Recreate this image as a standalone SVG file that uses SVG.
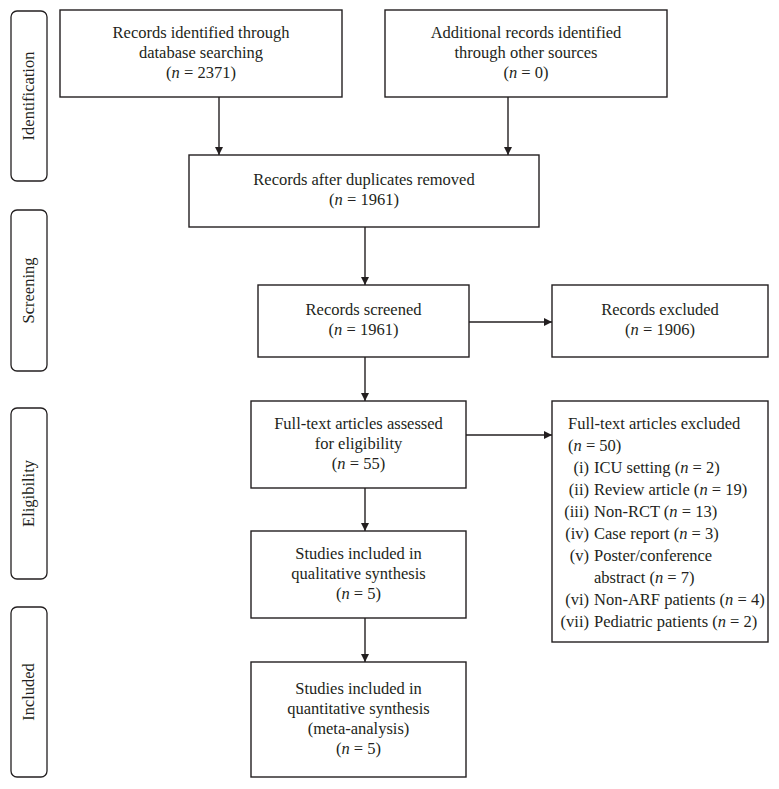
<svg xmlns="http://www.w3.org/2000/svg" width="779" height="789" viewBox="0 0 779 789">
<defs>
<marker id="arr" markerWidth="10" markerHeight="10" refX="9" refY="5" orient="auto" markerUnits="userSpaceOnUse">
<path d="M1,1 L9,5 L1,9 Z" fill="#231f20"/>
</marker>
<style>
.box{fill:#fff;stroke:#231f20;stroke-width:1.4}
.side{fill:#fff;stroke:#231f20;stroke-width:1.3}
.t{font-family:"Liberation Serif","Times New Roman",serif;font-size:16.5px;fill:#231f20}
.c{text-anchor:middle}
.r{text-anchor:end}
.con{stroke:#231f20;stroke-width:1.4;fill:none}
i{font-style:italic}
</style>
</defs>
<rect width="779" height="789" fill="#fff"/>

<g id="side-identification">
<rect class="side" x="11" y="11" width="36" height="170" rx="6"/>
<text class="t c" transform="translate(34,96) rotate(-90)">Identification</text>
</g>
<g id="side-screening">
<rect class="side" x="11" y="210" width="36" height="161" rx="6"/>
<text class="t c" transform="translate(34,290.5) rotate(-90)">Screening</text>
</g>
<g id="side-eligibility">
<rect class="side" x="11" y="408" width="36" height="171" rx="6"/>
<text class="t c" transform="translate(34,493.5) rotate(-90)">Eligibility</text>
</g>
<g id="side-included">
<rect class="side" x="11" y="607" width="36" height="170" rx="6"/>
<text class="t c" transform="translate(34,692) rotate(-90)">Included</text>
</g>

<g id="db-search">
<rect class="box" x="60" y="10" width="282" height="87"/>
<text class="t c" x="201" y="38">Records identified through</text>
<text class="t c" x="201" y="58">database searching</text>
<text class="t c" x="201" y="78">(<tspan font-style="italic">n</tspan> = 2371)</text>
</g>
<g id="other-sources">
<rect class="box" x="385" y="10" width="282" height="87"/>
<text class="t c" x="526" y="38">Additional records identified</text>
<text class="t c" x="526" y="58">through other sources</text>
<text class="t c" x="526" y="78">(<tspan font-style="italic">n</tspan> = 0)</text>
</g>
<g id="dup-removed">
<rect class="box" x="189" y="155" width="350" height="72"/>
<text class="t c" x="364" y="185">Records after duplicates removed</text>
<text class="t c" x="364" y="205">(<tspan font-style="italic">n</tspan> = 1961)</text>
</g>
<g id="screened">
<rect class="box" x="258" y="285" width="211" height="72"/>
<text class="t c" x="363.5" y="315">Records screened</text>
<text class="t c" x="363.5" y="335">(<tspan font-style="italic">n</tspan> = 1961)</text>
</g>
<g id="excluded">
<rect class="box" x="552" y="285" width="216" height="72"/>
<text class="t c" x="660" y="315">Records excluded</text>
<text class="t c" x="660" y="335">(<tspan font-style="italic">n</tspan> = 1906)</text>
</g>
<g id="fulltext">
<rect class="box" x="251" y="401" width="215" height="87"/>
<text class="t c" x="358.5" y="429">Full-text articles assessed</text>
<text class="t c" x="358.5" y="449">for eligibility</text>
<text class="t c" x="358.5" y="469">(<tspan font-style="italic">n</tspan> = 55)</text>
</g>
<g id="fulltext-excluded">
<rect class="box" x="552" y="401" width="216" height="241"/>
<text class="t" x="568" y="429">Full-text articles excluded</text>
<text class="t" x="568" y="451">(<tspan font-style="italic">n</tspan> = 50)</text>
<text class="t r" x="589" y="473">(i)</text>
<text class="t" x="594" y="473">ICU setting (<tspan font-style="italic">n</tspan> = 2)</text>
<text class="t r" x="589" y="495">(ii)</text>
<text class="t" x="594" y="495">Review article (<tspan font-style="italic">n</tspan> = 19)</text>
<text class="t r" x="589" y="517">(iii)</text>
<text class="t" x="594" y="517">Non-RCT (<tspan font-style="italic">n</tspan> = 13)</text>
<text class="t r" x="589" y="539">(iv)</text>
<text class="t" x="594" y="539">Case report (<tspan font-style="italic">n</tspan> = 3)</text>
<text class="t r" x="589" y="561">(v)</text>
<text class="t" x="594" y="561">Poster/conference</text>
<text class="t" x="594" y="583">abstract (<tspan font-style="italic">n</tspan> = 7)</text>
<text class="t r" x="589" y="605">(vi)</text>
<text class="t" x="594" y="605">Non-ARF patients (<tspan font-style="italic">n</tspan> = 4)</text>
<text class="t r" x="589" y="627">(vii)</text>
<text class="t" x="594" y="627">Pediatric patients (<tspan font-style="italic">n</tspan> = 2)</text>
</g>
<g id="qualitative">
<rect class="box" x="251" y="531" width="215" height="87"/>
<text class="t c" x="358.5" y="559">Studies included in</text>
<text class="t c" x="358.5" y="579">qualitative synthesis</text>
<text class="t c" x="358.5" y="599">(<tspan font-style="italic">n</tspan> = 5)</text>
</g>
<g id="quantitative">
<rect class="box" x="251" y="662" width="215" height="115"/>
<text class="t c" x="358.5" y="694">Studies included in</text>
<text class="t c" x="358.5" y="714">quantitative synthesis</text>
<text class="t c" x="358.5" y="734">(meta-analysis)</text>
<text class="t c" x="358.5" y="754">(<tspan font-style="italic">n</tspan> = 5)</text>
</g>

<g id="connectors">
<line class="con" x1="219" y1="97" x2="219" y2="155" marker-end="url(#arr)"/>
<line class="con" x1="508" y1="97" x2="508" y2="155" marker-end="url(#arr)"/>
<line class="con" x1="365" y1="227" x2="365" y2="285" marker-end="url(#arr)"/>
<line class="con" x1="469" y1="322" x2="552" y2="322" marker-end="url(#arr)"/>
<line class="con" x1="365" y1="357" x2="365" y2="401" marker-end="url(#arr)"/>
<line class="con" x1="466" y1="435" x2="552" y2="435" marker-end="url(#arr)"/>
<line class="con" x1="365" y1="488" x2="365" y2="531" marker-end="url(#arr)"/>
<line class="con" x1="365" y1="618" x2="365" y2="662" marker-end="url(#arr)"/>
</g>
</svg>
